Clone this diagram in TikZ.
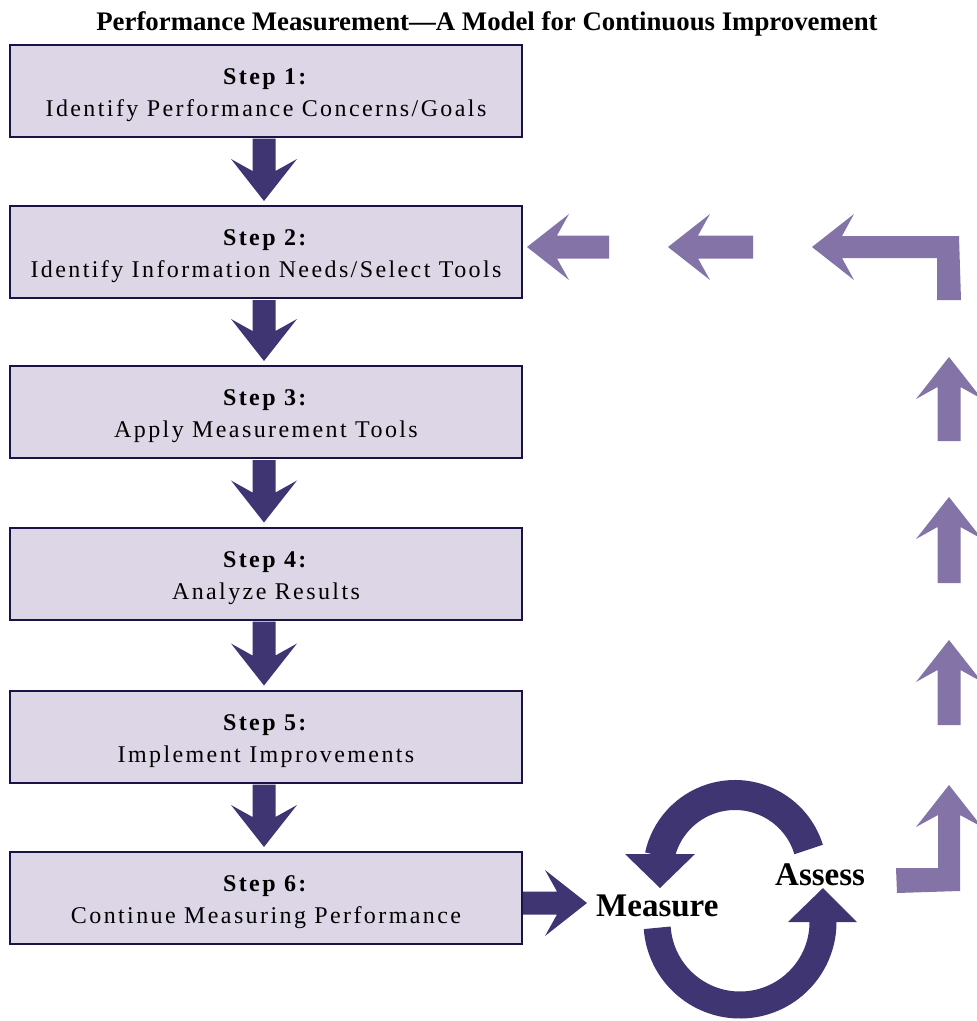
\documentclass[tikz,border=0pt]{standalone}
\usepackage{fontspec}
\setmainfont{Liberation Serif}
\newfontfamily\spc[LetterSpace=10]{Liberation Serif}
\usetikzlibrary{calc}
\definecolor{darkarr}{HTML}{3F3573}
\definecolor{palearr}{HTML}{8373A6}
\definecolor{boxfill}{HTML}{DCD6E6}
\definecolor{boxline}{HTML}{1A1446}
\newcommand\steptext[2]{\rule{0pt}{25pt}\textbf{#1}\\#2}
\tikzset{
  stepbox/.style={draw=boxline, line width=2pt, fill=boxfill, minimum width=512pt,
    minimum height=92pt, inner sep=0pt, align=center,
    font=\spc\fontsize{24}{32}\selectfont},
  bigword/.style={font=\bfseries\fontsize{33}{36}\selectfont, inner sep=0pt, anchor=base west},
}
% fat block arrow between two points
\newcommand\fatarrow[3]{%
  \path let \p1=(#2), \p2=(#3) in \pgfextra{%
    \pgfmathsetmacro\fa{atan2(\y2-\y1,\x2-\x1)}%
    \pgfmathsetmacro\fl{veclen(\x2-\x1,\y2-\y1)}%
    \xdef\faang{\fa}\xdef\falen{\fl}\xdef\fax{\x1}\xdef\fay{\y1}%
  };
  \fill[#1,shift={(\fax,\fay)},rotate=\faang]
    (0,-11.5) -- (\falen-30,-11.5) -- (\falen-42,-33) -- (\falen,0)
    -- (\falen-42,33) -- (\falen-30,11.5) -- (0,11.5) -- cycle;
}
\begin{document}
\begin{tikzpicture}[x=1pt,y=1pt]
\path[use as bounding box] (0,0) rectangle (977,-1021);
\clip (0,0) rectangle (977,-1021);

\node[font=\bfseries\fontsize{26.8}{30}\selectfont, anchor=base, inner sep=0pt] (title) at (487,-30)
  {Performance Measurement---A Model for Continuous Improvement};

\node[stepbox] (b1) at (266,-90.5) {\steptext{Step 1:}{Identify Performance Concerns/Goals}};
\node[stepbox] (b2) at (266,-252) {\steptext{Step 2:}{Identify Information Needs/Select Tools}};
\node[stepbox] (b3) at (266,-412) {\steptext{Step 3:}{Apply Measurement Tools}};
\node[stepbox] (b4) at (266,-573.5) {\steptext{Step 4:}{Analyze Results}};
\node[stepbox] (b5) at (266,-736.5) {\steptext{Step 5:}{Implement Improvements}};
\node[stepbox] (b6) at (266,-898) {\steptext{Step 6:}{Continue Measuring Performance}};

\foreach \a/\b in {b1/b2,b2/b3,b3/b4,b4/b5,b5/b6}{
  \fatarrow{darkarr}{$(\a.south)+(-2,-1)$}{$(\b.north)+(-2,4)$}
}

\node[bigword] (meas) at (596,-916) {Measure};
\node[bigword] (assess) at (775,-885) {Assess};

\coordinate (m0) at ($(b6.east)+(0,-5)$);
\coordinate (m1) at ($(meas.west)+(-9,0)$);
\fatarrow{darkarr}{m0}{m0 -| m1}

% circular arrows
\draw[darkarr, line width=30pt] (735,-872) ++(17:77) arc[start angle=17, end angle=168, radius=77];
\fill[darkarr] (625,-854) -- (695,-854) -- (660,-888) -- cycle;
\draw[darkarr, line width=27pt] (740,-922) ++(184:83) arc[start angle=184, end angle=362, radius=83];
\fill[darkarr] (788,-922) -- (857,-922) -- (823,-888) -- cycle;

% feedback path
\fill[palearr] (896,-868) -- (938,-868) -- (938,-815) -- (916,-827) -- (949,-785)
  -- (982,-827) -- (960,-815) -- (960,-891) -- (897,-893) -- cycle;
\coordinate (u1t) at (949,-441); \coordinate (u1h) at (949,-357);
\coordinate (u2t) at (949,-583); \coordinate (u2h) at (949,-497);
\coordinate (u3t) at (949,-725); \coordinate (u3h) at (949,-640);
\fatarrow{palearr}{u3t}{u3h}
\fatarrow{palearr}{u2t}{u2h}
\fatarrow{palearr}{u1t}{u1h}
\fill[palearr] (961,-300) -- (937,-300) -- (937,-258) -- (842,-258) -- (854,-280)
  -- (812,-247) -- (854,-214) -- (842,-236) -- (959,-236) -- cycle;
\coordinate (l2t) at (753,-247); \coordinate (l2h) at (668,-247);
\coordinate (l1t) at (609,-247);
\fatarrow{palearr}{l2t}{l2h}
\fatarrow{palearr}{l1t}{$(b2.east)+(4,5)$}
\end{tikzpicture}
\end{document}
